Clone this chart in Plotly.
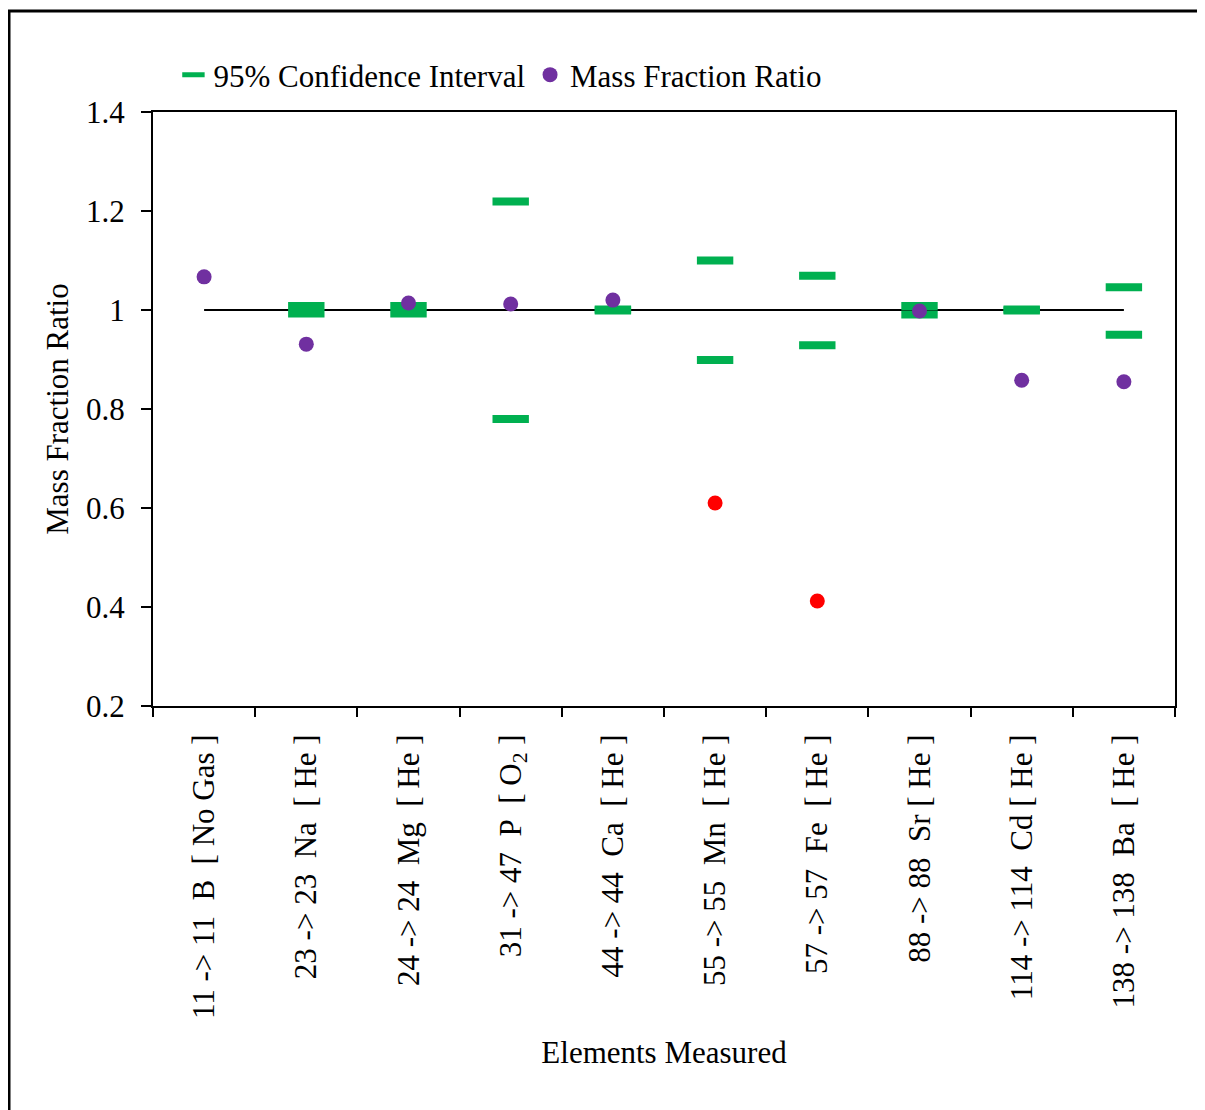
import plotly.graph_objects as go

categories = [
    "11 -> 11\u00a0\u00a0B\u00a0\u00a0[ No Gas ]",
    "23 -> 23\u00a0\u00a0Na\u00a0\u00a0[ He ]",
    "24 -> 24\u00a0\u00a0Mg\u00a0\u00a0[ He ]",
    "31 -> 47\u00a0\u00a0P\u00a0\u00a0[ O<sub>2</sub> ]",
    "44 -> 44\u00a0\u00a0Ca\u00a0\u00a0[ He ]",
    "55 -> 55\u00a0\u00a0Mn\u00a0\u00a0[ He ]",
    "57 -> 57\u00a0\u00a0Fe\u00a0\u00a0[ He ]",
    "88 -> 88\u00a0\u00a0Sr\u00a0[ He ]",
    "114 -> 114\u00a0\u00a0Cd\u00a0[ He ]",
    "138 -> 138\u00a0\u00a0Ba\u00a0\u00a0[ He ]",
]
mass_fraction_ratio = [1.067, 0.931, 1.014, 1.012, 1.020, 0.610, 0.412, 0.998, 0.858, 0.855]
ci_upper = [None, 1.008, 1.008, 1.219, 1.001, 1.100, 1.069, 1.008, 1.001, 1.046]
ci_lower = [None, 0.993, 0.993, 0.780, 0.999, 0.899, 0.929, 0.991, 0.999, 0.950]
point_flag = ["ok", "ok", "ok", "ok", "ok", "out", "out", "ok", "ok", "ok"]
reference_value = 1.0

GREEN = "#00B050"
PURPLE = "#7030A0"
RED = "#FF0000"
FONT = "Liberation Serif"

# page body has an 8px margin; lay the figure out in figure coordinates
OFF = 8
L, R_EDGE, T, B_EDGE = 153 - OFF, 1175 - OFF, 112 - OFF, 706 - OFF
W, H = 1205, 1110
PW, PH = R_EDGE - L, B_EDGE - T

fig = go.Figure()

# reference line at 1
fig.add_trace(go.Scatter(
    x=[categories[0], categories[-1]], y=[reference_value, reference_value],
    mode="lines", line=dict(color="black", width=2), showlegend=False, hoverinfo="skip"))

# confidence interval markers
ci_x = categories + categories
ci_y = ci_upper + ci_lower
fig.add_trace(go.Scatter(
    x=ci_x, y=ci_y, mode="markers", name="95% Confidence Interval",
    marker=dict(symbol="line-ew", size=26, line=dict(color=GREEN, width=8), color=GREEN)))

# mass fraction ratio
colors = [RED if f == "out" else PURPLE for f in point_flag]
fig.add_trace(go.Scatter(
    x=categories, y=mass_fraction_ratio, mode="markers", name="Mass Fraction Ratio",
    marker=dict(symbol="circle", size=15, color=colors)))

fig.update_layout(
    width=W, height=H,
    margin=dict(l=L, r=W - R_EDGE, t=T, b=H - B_EDGE),
    paper_bgcolor="white", plot_bgcolor="white",
    font=dict(family=FONT, size=31, color="black"),
    legend=dict(orientation="h", x=0.02, y=(B_EDGE - (75 - OFF)) / PH,
                xanchor="left", yanchor="middle",
                font=dict(family=FONT, size=31), itemwidth=30, tracegroupgap=0,
                bgcolor="rgba(0,0,0,0)"),
    showlegend=True,
)

fig.update_xaxes(
    type="category", categoryorder="array", categoryarray=categories,
    range=[-0.5, len(categories) - 0.5],
    showline=True, linecolor="black", linewidth=2, mirror=True,
    ticks="outside", tickson="boundaries", ticklen=9, tickwidth=2, tickcolor="black",
    tickangle=-90, tickfont=dict(family=FONT, size=31), ticklabelstandoff=14,
    showgrid=False, zeroline=False,
    title=dict(text="Elements Measured", font=dict(family=FONT, size=31), standoff=23),
)
fig.update_yaxes(
    range=[0.2, 1.4], dtick=0.2, tick0=0.2,
    showline=True, linecolor="black", linewidth=2, mirror=True,
    ticks="outside", ticklen=10, tickwidth=2, tickcolor="black",
    tickfont=dict(family=FONT, size=31), tickformat="~g", ticklabelstandoff=10,
    showgrid=False, zeroline=False,
    title=dict(text="Mass Fraction Ratio", font=dict(family=FONT, size=31), standoff=8),
)

# outer chart border
fig.add_shape(type="rect", xref="paper", yref="paper",
              x0=(9 - OFF - L) / PW, x1=(1215 - OFF - L) / PW,
              y0=(B_EDGE - (1120 - OFF)) / PH, y1=(B_EDGE - (11 - OFF)) / PH,
              line=dict(color="black", width=3), fillcolor="rgba(0,0,0,0)", layer="below")

fig.write_html("out.html")
